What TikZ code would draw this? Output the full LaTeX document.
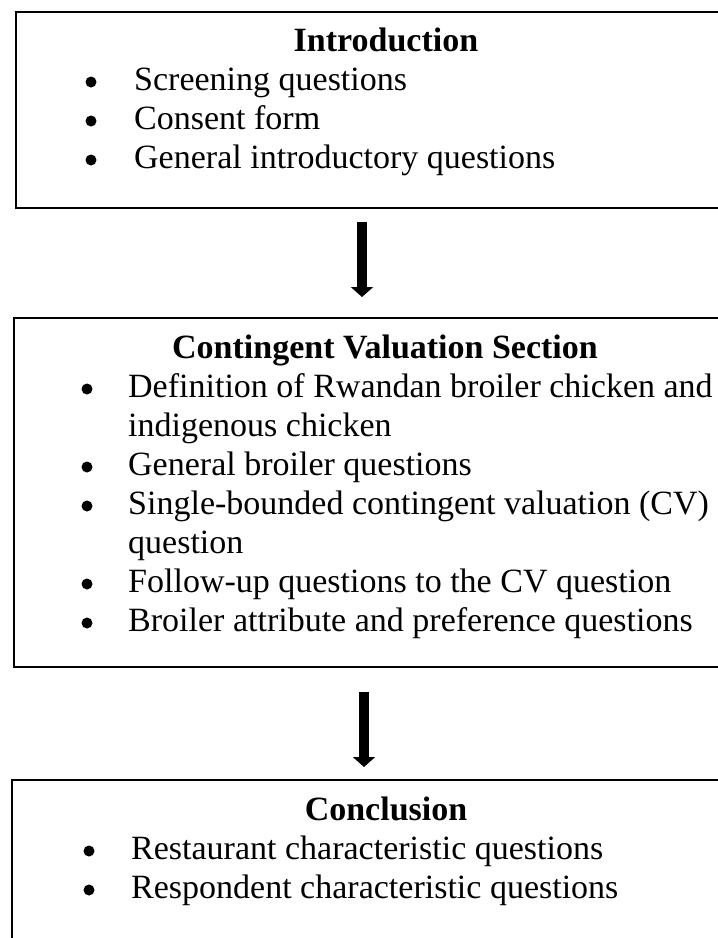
\documentclass[tikz,border=0pt]{standalone}
\usepackage{fontspec}
\setmainfont{Liberation Serif}
\usetikzlibrary{arrows.meta}
\begin{document}
\begin{tikzpicture}[x=1pt,y=-1pt,
  boxline/.style={draw=black, line width=1.8pt, inner sep=0pt, anchor=north west},
  head/.style={font=\fontsize{34}{39}\selectfont\bfseries, anchor=base, inner sep=0pt},
  item/.style={font=\fontsize{34}{39}\selectfont, anchor=base west, inner sep=0pt},
  dot/.style={circle, fill=black, inner sep=0pt, minimum size=11pt},
  bigarrow/.style={line width=10pt, -{Triangle[width=22pt,length=10pt]}}]
\useasboundingbox (0,0) rectangle (718,938);
\clip (0,0) rectangle (718,938);
% boxes (they run past the right edge, the last one past the bottom edge)
\node[boxline, minimum width=745pt, minimum height=196pt] (box1) at (15,11) {};
\node[boxline, minimum width=745pt, minimum height=349pt] (box2) at (13,317) {};
\node[boxline, minimum width=745pt, minimum height=300pt] (box3) at (11,779) {};
% box 1
\node[head] (h1) at (386,51) {Introduction};
\node[dot] (d11) at (91,82) {};
\node[item] (i11) at (134,90) {Screening questions};
\node[dot] (d12) at (91,121) {};
\node[item] (i12) at (134,129) {Consent form};
\node[dot] (d13) at (91,160) {};
\node[item] (i13) at (134,168) {General introductory questions};
% box 2
\node[head] (h2) at (385,358) {Contingent Valuation Section};
\node[dot] (d21) at (87,389) {};
\node[item] (i21) at (128,397) {Definition of Rwandan broiler chicken and};
\node[item] (i21b) at (128,436) {indigenous chicken};
\node[dot] (d22) at (87,467) {};
\node[item] (i22) at (128,475) {General broiler questions};
\node[dot] (d23) at (87,506) {};
\node[item] (i23) at (128,514) {Single-bounded contingent valuation (CV)};
\node[item] (i23b) at (128,553) {question};
\node[dot] (d24) at (87,584) {};
\node[item] (i24) at (128,592) {Follow-up questions to the CV question};
\node[dot] (d25) at (87,623) {};
\node[item] (i25) at (128,631) {Broiler attribute and preference questions};
% box 3
\node[head] (h3) at (386,820) {Conclusion};
\node[dot] (d31) at (89,851) {};
\node[item] (i31) at (131,859) {Restaurant characteristic questions};
\node[dot] (d32) at (89,890) {};
\node[item] (i32) at (131,898) {Respondent characteristic questions};
% arrows
\coordinate (a1s) at (362,222);
\coordinate (a1e) at (362,297);
\coordinate (a2s) at (364,692);
\coordinate (a2e) at (364,767);
\draw[bigarrow] (a1s) -- (a1e);
\draw[bigarrow] (a2s) -- (a2e);
\end{tikzpicture}
\end{document}
